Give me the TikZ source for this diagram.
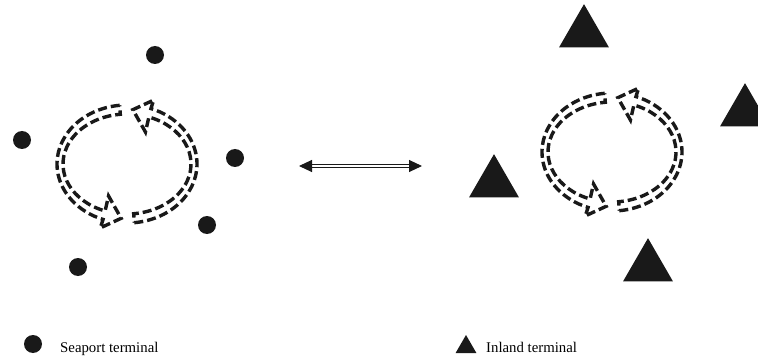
\documentclass[tikz,border=0pt]{standalone}
\usepackage{fontspec}
\setmainfont{Liberation Serif}
\usepackage{tikz}
\usetikzlibrary{arrows.meta,shapes.geometric}
% one half of a turning arrow, around (0,0)
\newcommand{\halfcycle}{(-84:70 and 59) arc[start angle=-84, end angle=70, x radius=70, y radius=59]
    -- (70:78 and 68) -- (85:67 and 54.5) -- (70:54 and 34) -- (70:64 and 50)
    arc[start angle=70, end angle=-84, x radius=64, y radius=50] -- cycle}

\begin{document}
\begin{tikzpicture}[x=1pt,y=1pt,
        seaport/.style={circle,fill=black!90,inner sep=0pt,minimum size=18pt},
        inland/.style={regular polygon,regular polygon sides=3,fill=black!90,inner sep=0pt,minimum size=57.7pt},
        cyclearrow/.style={line width=3.4pt,dash pattern=on 9pt off 4pt,black!90},
        biarrow/.style={double,line width=1pt,double distance=1.6pt,black!90,
                        {Triangle[length=13pt,width=12pt]}-{Triangle[length=13pt,width=12pt]}},
        legend/.style={anchor=base west,inner sep=0pt,font=\fontsize{14.8}{17}\selectfont}
    ]
    \useasboundingbox (0,0) rectangle (758,362);

    % Seaport side
    \coordinate (c1) at (127,198);
    \node[seaport] (s1) at (155,307) {};
    \node[seaport] (s2) at (22,222)  {};
    \node[seaport] (s3) at (235,204) {};
    \node[seaport] (s4) at (207,137) {};
    \node[seaport] (s5) at (78,95)   {};
    \begin{scope}[shift={(c1)}]
        \draw[cyclearrow] \halfcycle;
        \draw[cyclearrow,rotate=180] \halfcycle;
    \end{scope}

    % Inland side
    \coordinate (c2) at (612,210);
    \node[inland] (i1) at (584,329) {};
    \node[inland] (i2) at (745,250) {};
    \node[inland] (i3) at (494,179) {};
    \node[inland] (i4) at (648,95)  {};
    \begin{scope}[shift={(c2)}]
        \draw[cyclearrow] \halfcycle;
        \draw[cyclearrow,rotate=180] \halfcycle;
    \end{scope}

    \coordinate (al) at (299,196);
    \coordinate (ar) at (422,196);
    \draw[biarrow] (al) -- (ar);

    % Legend
    \node[seaport] (ls) at (33,18) {};
    \node[legend] (lst) at (60,10) {Seaport terminal};
    \node[inland,minimum size=24pt] (li) at (466,15) {};
    \node[legend] (lit) at (486,10) {Inland terminal};
\end{tikzpicture}
\end{document}
